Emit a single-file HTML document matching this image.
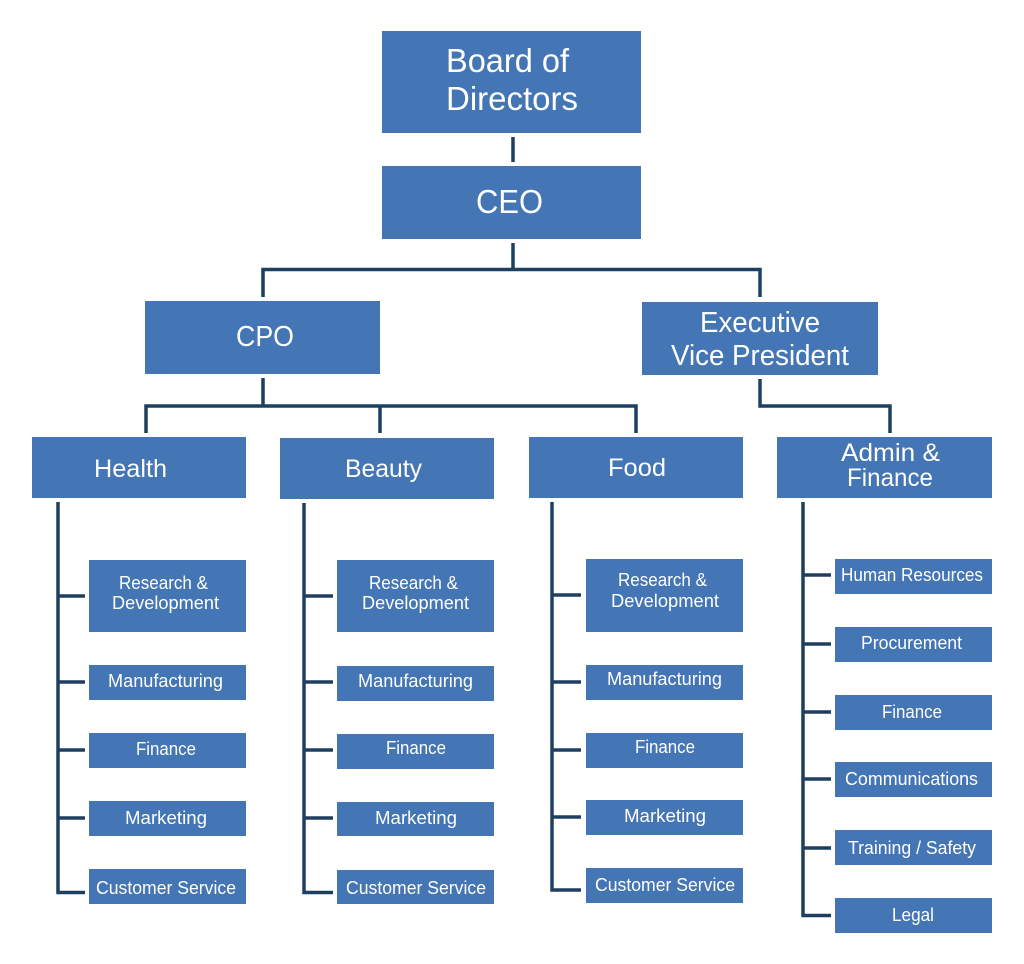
<!DOCTYPE html>
<html><head><meta charset="utf-8"><style>
html,body{margin:0;padding:0;background:#fff}
svg{display:block}
rect{fill:#4475b4}
path{stroke:#1f3f61;stroke-width:3.5;fill:none}
text{fill:#fff;font-family:"Liberation Sans",sans-serif;}
.a{font-size:33px}.b{font-size:25px}.c{font-size:18px}
</style></head><body>
<svg xmlns="http://www.w3.org/2000/svg" width="1024" height="964" viewBox="0 0 1024 964">
<rect width="1024" height="964" style="fill:#fff"/>
<path d="M513 137V162M513 243V269M263 297V269.5H760V297M263 378V406M146 433V406H636V433M380 406V433M760 379V406H890V433"/>
<path d="M58 502V892.500H85M58 596H85M58 682H85M58 750H85M58 818H85"/>
<path d="M304 503V892.500H333M304 596H333M304 682H333M304 750H333M304 818H333"/>
<path d="M552 502V890H581M552 595H581M552 682H581M552 750H581M552 817H581"/>
<path d="M803 502V915.500H831M803 575H831M803 644H831M803 712H831M803 779H831M803 848H831"/>
<rect x="382" y="31" width="259" height="102"/><rect x="382" y="166" width="259" height="73"/>
<rect x="145" y="301" width="235" height="73"/><rect x="642" y="302" width="236" height="73"/>
<rect x="32" y="437" width="214" height="61"/><rect x="280" y="438" width="214" height="61"/>
<rect x="529" y="437" width="214" height="61"/><rect x="777" y="437" width="215" height="61"/>
<rect x="89" y="560" width="157" height="72"/><rect x="89" y="665" width="157" height="35"/><rect x="89" y="733" width="157" height="35"/><rect x="89" y="801" width="157" height="35"/><rect x="89" y="869" width="157" height="35"/>
<rect x="337" y="560" width="157" height="72"/><rect x="337" y="666" width="157" height="35"/><rect x="337" y="734" width="157" height="35"/><rect x="337" y="802" width="157" height="34"/><rect x="337" y="870" width="157" height="34"/>
<rect x="586" y="559" width="157" height="73"/><rect x="586" y="665" width="157" height="35"/><rect x="586" y="733" width="157" height="35"/><rect x="586" y="800" width="157" height="35"/><rect x="586" y="868" width="157" height="35"/>
<rect x="835" y="559" width="157" height="35"/><rect x="835" y="627" width="157" height="35"/><rect x="835" y="695" width="157" height="35"/><rect x="835" y="762" width="157" height="35"/><rect x="835" y="830" width="157" height="35"/><rect x="835" y="898" width="157" height="35"/>
<g class="a">
<text x="446" y="72" textLength="123" lengthAdjust="spacingAndGlyphs">Board of</text>
<text x="446" y="110" textLength="132" lengthAdjust="spacingAndGlyphs">Directors</text>
<text x="476" y="213" textLength="67" lengthAdjust="spacingAndGlyphs">CEO</text>
</g>
<g style="font-size:29px">
<text x="236" y="346" textLength="58" lengthAdjust="spacingAndGlyphs">CPO</text>
<text x="700" y="332" textLength="120" lengthAdjust="spacingAndGlyphs">Executive</text>
<text x="671" y="365" textLength="178" lengthAdjust="spacingAndGlyphs">Vice President</text>
</g>
<g class="b">
<text x="94" y="477" textLength="73" lengthAdjust="spacingAndGlyphs">Health</text>
<text x="345" y="477" textLength="77" lengthAdjust="spacingAndGlyphs">Beauty</text>
<text x="608" y="476" textLength="58" lengthAdjust="spacingAndGlyphs">Food</text>
<text x="841" y="461" textLength="99" lengthAdjust="spacingAndGlyphs">Admin &amp;</text>
<text x="847" y="486" textLength="86" lengthAdjust="spacingAndGlyphs">Finance</text>
</g>
<g class="c">
<text x="119" y="589" textLength="89" lengthAdjust="spacingAndGlyphs">Research &amp;</text>
<text x="112" y="609" textLength="107" lengthAdjust="spacingAndGlyphs">Development</text>
<text x="108" y="687" textLength="115" lengthAdjust="spacingAndGlyphs">Manufacturing</text>
<text x="136" y="755" textLength="60" lengthAdjust="spacingAndGlyphs">Finance</text>
<text x="125" y="824" textLength="82" lengthAdjust="spacingAndGlyphs">Marketing</text>
<text x="96" y="894" textLength="140" lengthAdjust="spacingAndGlyphs">Customer Service</text>

<text x="369" y="589" textLength="89" lengthAdjust="spacingAndGlyphs">Research &amp;</text>
<text x="362" y="609" textLength="107" lengthAdjust="spacingAndGlyphs">Development</text>
<text x="358" y="687" textLength="115" lengthAdjust="spacingAndGlyphs">Manufacturing</text>
<text x="386" y="754" textLength="60" lengthAdjust="spacingAndGlyphs">Finance</text>
<text x="375" y="824" textLength="82" lengthAdjust="spacingAndGlyphs">Marketing</text>
<text x="346" y="894" textLength="140" lengthAdjust="spacingAndGlyphs">Customer Service</text>

<text x="618" y="586" textLength="89" lengthAdjust="spacingAndGlyphs">Research &amp;</text>
<text x="611" y="607" textLength="108" lengthAdjust="spacingAndGlyphs">Development</text>
<text x="607" y="685" textLength="115" lengthAdjust="spacingAndGlyphs">Manufacturing</text>
<text x="635" y="753" textLength="60" lengthAdjust="spacingAndGlyphs">Finance</text>
<text x="624" y="822" textLength="82" lengthAdjust="spacingAndGlyphs">Marketing</text>
<text x="595" y="891" textLength="140" lengthAdjust="spacingAndGlyphs">Customer Service</text>

<text x="841" y="581" textLength="142" lengthAdjust="spacingAndGlyphs">Human Resources</text>
<text x="861" y="649" textLength="101" lengthAdjust="spacingAndGlyphs">Procurement</text>
<text x="882" y="718" textLength="60" lengthAdjust="spacingAndGlyphs">Finance</text>
<text x="845" y="785" textLength="133" lengthAdjust="spacingAndGlyphs">Communications</text>
<text x="848" y="854" textLength="128" lengthAdjust="spacingAndGlyphs">Training / Safety</text>
<text x="892" y="921" textLength="42" lengthAdjust="spacingAndGlyphs">Legal</text>
</g>
</svg>
</body></html>
